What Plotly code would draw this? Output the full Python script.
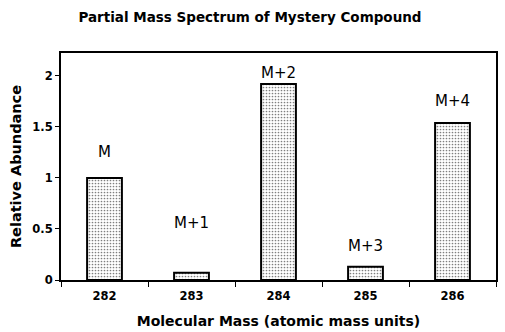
import plotly.graph_objects as go

masses = ["282", "283", "284", "285", "286"]
abundance = [1.0, 0.07, 1.92, 0.13, 1.54]
peak_labels = ["M", "M+1", "M+2", "M+3", "M+4"]
label_heights = [1.25, 0.56, 2.03, 0.33, 1.75]
y_ticks = [0, 0.5, 1, 1.5, 2]
y_tick_text = ["0", "0.5", "1", "1.5", "2"]

font_family = "DejaVu Sans, Verdana, sans-serif"

fig = go.Figure()
fig.add_trace(go.Bar(
    x=masses,
    y=abundance,
    width=0.4,
    marker=dict(
        color="white",
        line=dict(color="black", width=2),
        pattern=dict(shape=".", fgcolor="black", bgcolor="white", size=3, solidity=0.25),
    ),
    showlegend=False,
))

for i, (lab, h) in enumerate(zip(peak_labels, label_heights)):
    fig.add_annotation(x=i, y=h, xref="x", yref="y", text=lab, showarrow=False,
                       font=dict(family=font_family, size=15, color="black"))

fig.update_layout(
    width=505, height=332,
    margin=dict(l=61, r=9, t=53, b=52, autoexpand=False),
    paper_bgcolor="white", plot_bgcolor="white",
    title=dict(text="<b>Partial Mass Spectrum of Mystery Compound</b>",
               x=0.495, xanchor="center", y=0.948, yanchor="middle",
               font=dict(family=font_family, size=13.5, color="black")),
    font=dict(family=font_family, color="black"),
)
fig.update_xaxes(
    type="category", range=[-0.5, 4.5], automargin=False,
    showline=True, linecolor="black", linewidth=2, mirror=True,
    ticks="outside", tickson="boundaries", ticklen=5, tickcolor="black", tickwidth=1,
    ticklabelstandoff=4,
    showgrid=False,
    tickfont=dict(family=font_family, size=11.5, color="black", weight="bold"),
    title=dict(text="<b>Molecular Mass (atomic mass units)</b>", standoff=14,
               font=dict(family=font_family, size=14, color="black")),
)
fig.update_yaxes(
    range=[0, 2.225], automargin=False,
    tickvals=y_ticks, ticktext=y_tick_text,
    showline=True, linecolor="black", linewidth=2, mirror=True,
    ticks="outside", ticklen=4, tickcolor="black", tickwidth=1,
    showgrid=False, zeroline=False,
    tickfont=dict(family=font_family, size=11.5, color="black", weight="bold"),
    title=dict(text="<b>Relative Abundance</b>", standoff=7,
               font=dict(family=font_family, size=14.5, color="black")),
)

fig.write_html("out.html")
